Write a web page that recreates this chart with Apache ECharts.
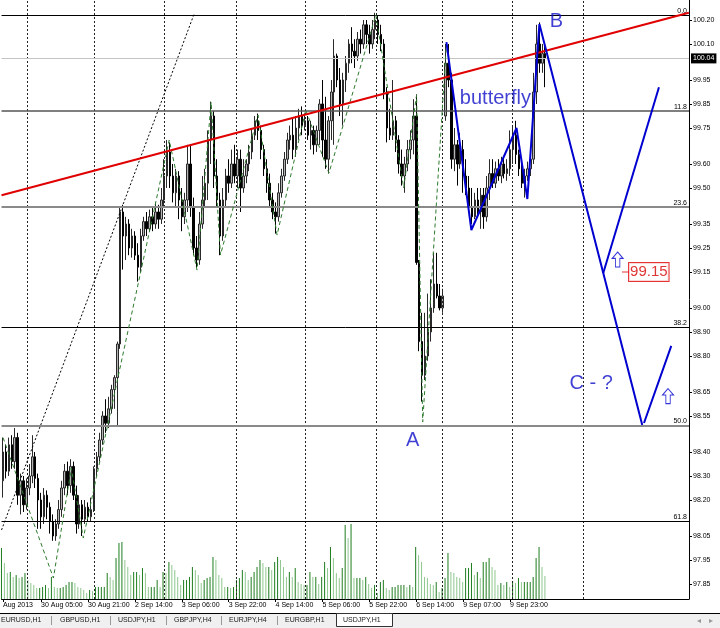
<!DOCTYPE html>
<html><head><meta charset="utf-8">
<script src="https://cdn.jsdelivr.net/npm/echarts@6/dist/echarts.min.js"></script>
<style>html,body{margin:0;padding:0;background:#fff;}#c{width:720px;height:628px;}</style>
</head><body><div id="c"></div>
<script>
// hourly bars USDJPY,H1 : [open, close, low, high]
const ohlc = [
[98.28,98.40,98.21,98.46],[98.40,98.32,98.29,98.43],[98.32,98.43,98.30,98.46],[98.43,98.36,98.33,98.47],[98.36,98.46,98.33,98.50],
[98.46,98.22,98.18,98.48],[98.22,98.28,98.14,98.31],[98.28,98.18,98.15,98.30],[98.18,98.25,98.16,98.29],[98.25,98.30,98.22,98.35],
[98.30,98.38,98.27,98.47],[98.38,98.29,98.25,98.40],[98.29,98.20,98.08,98.31],[98.20,98.13,98.08,98.23],[98.13,98.22,98.10,98.25],
[98.22,98.17,98.12,98.24],[98.17,98.11,98.06,98.19],[98.11,98.05,98.03,98.14],[98.05,98.10,98.03,98.12],[98.10,98.16,98.08,98.20],
[98.16,98.25,98.13,98.28],[98.25,98.32,98.22,98.35],[98.32,98.26,98.22,98.36],[98.26,98.34,98.23,98.37],[98.34,98.22,98.20,98.36],
[98.22,98.10,98.06,98.26],[98.10,98.18,98.08,98.22],[98.18,98.12,98.05,98.20],[98.12,98.17,98.10,98.20],[98.17,98.13,98.11,98.19],
[98.13,98.16,98.11,98.21],[98.16,98.33,98.15,98.34],[98.33,98.38,98.30,98.40],[98.38,98.45,98.36,98.48],[98.45,98.55,98.43,98.57],
[98.55,98.52,98.48,98.62],[98.52,98.58,98.50,98.63],[98.58,98.66,98.56,98.68],[98.66,98.71,98.58,98.72],[98.71,98.85,98.51,98.86],
[98.85,99.40,98.83,99.42],[99.40,99.30,99.16,99.43],[99.30,99.35,99.20,99.38],[99.35,99.25,99.22,99.37],[99.25,99.30,99.21,99.33],
[99.30,99.22,99.20,99.32],[99.22,99.17,99.11,99.27],[99.17,99.30,99.15,99.33],[99.30,99.36,99.28,99.38],[99.36,99.33,99.30,99.40],
[99.33,99.38,99.32,99.41],[99.38,99.35,99.32,99.42],[99.35,99.40,99.33,99.44],[99.40,99.37,99.33,99.43],[99.37,99.45,99.35,99.50],
[99.45,99.55,99.42,99.62],[99.55,99.65,99.50,99.70],[99.65,99.55,99.50,99.69],[99.55,99.48,99.44,99.60],[99.48,99.55,99.42,99.58],
[99.55,99.45,99.37,99.57],[99.45,99.38,99.32,99.50],[99.38,99.45,99.35,99.48],[99.45,99.60,99.40,99.68],[99.60,99.42,99.38,99.68],
[99.42,99.25,99.22,99.46],[99.25,99.20,99.17,99.30],[99.20,99.35,99.18,99.40],[99.35,99.45,99.33,99.55],[99.45,99.52,99.42,99.58],
[99.52,99.70,99.45,99.74],[99.70,99.80,99.60,99.86],[99.80,99.55,99.50,99.82],[99.55,99.45,99.42,99.62],[99.45,99.30,99.22,99.48],
[99.30,99.45,99.28,99.50],[99.45,99.55,99.42,99.58],[99.55,99.52,99.48,99.62],[99.52,99.60,99.50,99.66],[99.60,99.55,99.52,99.68],
[99.55,99.62,99.50,99.66],[99.62,99.50,99.40,99.66],[99.50,99.55,99.48,99.62],[99.55,99.60,99.52,99.62],[99.60,99.65,99.57,99.68],
[99.65,99.72,99.62,99.75],[99.72,99.78,99.70,99.80],[99.78,99.74,99.70,99.81],[99.74,99.66,99.62,99.76],[99.66,99.58,99.55,99.68],
[99.58,99.52,99.48,99.62],[99.52,99.45,99.42,99.56],[99.45,99.40,99.37,99.48],[99.40,99.38,99.31,99.44],[99.38,99.48,99.36,99.52],
[99.48,99.55,99.46,99.58],[99.55,99.62,99.53,99.65],[99.62,99.70,99.60,99.73],[99.70,99.72,99.66,99.76],[99.72,99.66,99.62,99.79],
[99.66,99.75,99.63,99.80],[99.75,99.80,99.70,99.83],[99.80,99.76,99.72,99.84],[99.76,99.78,99.74,99.81],[99.78,99.72,99.70,99.80],
[99.72,99.74,99.66,99.78],[99.74,99.68,99.64,99.76],[99.68,99.74,99.65,99.76],[99.74,99.85,99.68,99.87],[99.85,99.70,99.63,99.95],
[99.70,99.62,99.58,99.88],[99.62,99.78,99.56,99.80],[99.78,99.90,99.70,99.95],[99.90,100.05,99.68,100.12],[100.05,99.95,99.92,100.06],
[99.95,99.85,99.80,100.00],[99.85,99.95,99.76,99.98],[99.95,100.02,99.90,100.05],[100.02,100.10,99.98,100.12],[100.10,100.07,100.02,100.17],
[100.07,100.05,100.00,100.12],[100.05,100.12,100.03,100.15],[100.12,100.10,100.06,100.16],[100.10,100.18,100.08,100.20],[100.18,100.14,100.10,100.20],
[100.14,100.10,100.06,100.18],[100.10,100.16,100.08,100.20],[100.16,100.20,100.12,100.23],[100.20,100.14,100.10,100.22],[100.14,100.10,100.07,100.18],
[100.10,99.90,99.87,100.12],[99.90,99.75,99.69,99.92],[99.75,99.72,99.70,99.83],[99.72,99.78,99.70,99.95],[99.78,99.70,99.65,99.80],
[99.70,99.60,99.56,99.72],[99.60,99.55,99.51,99.66],[99.55,99.60,99.48,99.63],[99.60,99.66,99.57,99.70],[99.66,99.70,99.62,99.74],
[99.70,99.80,99.64,99.87],[99.80,99.19,99.18,99.89],[99.19,98.86,98.82,99.20],[98.86,98.72,98.61,98.98],[98.72,98.80,98.70,98.98],
[98.80,98.90,98.78,99.06],[98.90,99.00,98.86,99.12],[99.00,99.10,98.98,99.23],[99.10,99.05,99.04,99.23],[99.05,99.00,98.99,99.10],
[99.00,99.05,98.98,99.08],[99.80,100.02,99.78,100.10],[100.02,99.95,99.92,100.10],[99.95,99.62,99.58,99.98],[99.62,99.68,99.57,99.75],
[99.68,99.60,99.51,99.70],[99.60,99.66,99.58,99.73],[99.66,99.55,99.48,99.70],[99.55,99.50,99.47,99.62],[99.50,99.42,99.40,99.55],
[99.42,99.38,99.35,99.50],[99.38,99.45,99.37,99.48],[99.45,99.40,99.38,99.50],[99.40,99.47,99.33,99.50],[99.47,99.38,99.33,99.50],
[99.38,99.50,99.36,99.55],[99.50,99.56,99.45,99.62],[99.56,99.52,99.50,99.62],[99.52,99.58,99.50,99.61],[99.58,99.55,99.53,99.62],
[99.55,99.60,99.52,99.63],[99.60,99.56,99.54,99.62],[99.56,99.58,99.53,99.62],[99.58,99.66,99.55,99.74],[99.66,99.72,99.60,99.76],
[99.72,99.64,99.60,99.78],[99.64,99.58,99.55,99.66],[99.58,99.52,99.50,99.62],[99.52,99.55,99.46,99.58],[99.55,99.58,99.53,99.61],
[99.58,99.62,99.55,99.63],[99.62,99.90,99.60,99.98],[99.90,100.10,99.85,100.18],[100.10,100.02,99.98,100.19],[100.02,100.06,99.98,100.10],
[100.06,100.04,99.92,100.09]
];
// tick volumes (hundreds)
const volumes = [
51,36,26,27,22,24,21,22,26,19,16,14,11,11,12,14,11,22,12,11,11,12,14,17,17,16,12,11,9,6,9,8,12,12,12,12,26,22,19,41,
56,57,39,32,24,27,27,24,31,26,12,12,12,19,12,27,26,37,34,29,22,14,19,19,22,32,29,24,16,19,21,22,42,39,24,21,12,12,11,12,
19,21,29,27,19,22,27,32,39,36,32,32,29,37,42,39,32,22,27,22,31,17,15,14,14,27,22,22,15,22,37,31,52,41,26,21,31,74,61,75,
21,21,21,19,22,15,11,14,6,17,19,11,9,12,12,14,14,14,12,14,12,52,44,37,22,21,15,14,17,7,11,21,46,27,26,22,21,17,31,31,
36,24,27,21,37,37,41,32,29,14,16,14,17,12,18,16,21,17,17,17,17,22,41,52,32,23
];
const timeTickBars = [0,13,29,45,61,77,93,109,125,141,157,173];
const timeTickLabels = ['Aug 2013','30 Aug 05:00','30 Aug 21:00','2 Sep 14:00','3 Sep 06:00','3 Sep 22:00','4 Sep 14:00','5 Sep 06:00','5 Sep 22:00','6 Sep 14:00','9 Sep 07:00','9 Sep 23:00'];
const priceTicks = [100.20,100.10,99.95,99.85,99.75,99.60,99.50,99.35,99.25,99.15,99.00,98.90,98.80,98.65,98.55,98.40,98.30,98.20,98.05,97.95,97.85];
const gridBars = [8.3,31.2,55,79.5,103,127.2,150,173.8,198];
const fibLabels = ['0.0','11.8','23.6','38.2','50.0','61.8'];
const fibPrices = [100.225,99.821,99.419,98.917,98.510,98.108];
const bidPrice = 100.04;
const zigzag = [[0,98.46],[17.2,97.875],[23.3,98.333],[27.4,98.042],[56.7,99.70],[66.2,99.158],[71,99.858],[74.2,99.221],[87,99.804],[93.5,99.304],[103.3,99.825],[111.2,99.562],[127.2,100.221],[136.7,99.50],[141.1,99.887],[143.2,98.525],[151.3,100.104]];
const trendRed = [[-0.5,99.47],[234,100.23]];
const trendDotted = [[-0.5,98.075],[65.2,100.225]];
const butterfly = [[151.3,100.108],[159.8,99.325],[175.2,99.75],[178.9,99.454],[183,100.183],[218.1,98.512]];
const projUp1 = [[204.8,99.146],[223.8,99.92]];
const projUp2 = [[218.7,98.521],[228,98.842]];
const arrows = [[209.7,99.202],[226.9,98.633]];
const priceMark = [212.4,99.15];
const priceMarkText = '99.15';
const texts = [['butterfly',168.0,99.871],['A',139.75,98.446],['B',188.8,100.192],['C - ?',200.7,98.687]];
const tabs = ['EURUSD,H1','GBPUSD,H1','USDJPY,H1','GBPJPY,H4','EURJPY,H4','EURGBP,H1','USDJPY,H1'];

const FONT = 'Liberation Sans, Arial, sans-serif';
const BLUE = '#0000d0';
const X_MIN = -0.5, X_MAX = 234.05, Y_MIN = 97.7875, Y_MAX = 100.28333;

const fibStyles = [
  {color:'#000', width:1}, {color:'#555', width:1.5}, {color:'#8a8a8a', width:2},
  {color:'#000', width:1}, {color:'#8a8a8a', width:2}, {color:'#000', width:1}
];

const chart = echarts.init(document.getElementById('c'), null, {renderer:'canvas'});

// tab bar graphics
const tabX = [1,60,118,174,229,285,343];
const sepX = [51,110,166,221,277];
const graphics = [
  {type:'rect', shape:{x:0,y:613,width:720,height:15}, style:{fill:'#f0f0f0'}, silent:true},
  {type:'line', shape:{x1:0,y1:613.5,x2:720,y2:613.5}, style:{stroke:'#000',lineWidth:1}, silent:true},
  {type:'rect', shape:{x:336.5,y:613.5,width:56,height:13}, style:{fill:'#fff',stroke:'#333',lineWidth:1}, silent:true}
];
tabs.forEach((t,k)=>graphics.push({type:'text', x:tabX[k], y:620, style:{text:t, fill:'#222', font:'7px '+FONT, textVerticalAlign:'middle'}, silent:true}));
sepX.forEach(x=>graphics.push({type:'line', shape:{x1:x+0.5,y1:616,x2:x+0.5,y2:625}, style:{stroke:'#999',lineWidth:1}, silent:true}));
graphics.push({type:'text', x:697, y:621, style:{text:'◂', fill:'#999', font:'8px DejaVu Sans', textVerticalAlign:'middle'}, silent:true});
graphics.push({type:'text', x:709, y:621, style:{text:'▸', fill:'#999', font:'8px DejaVu Sans', textVerticalAlign:'middle'}, silent:true});

const option = {
  animation:false,
  backgroundColor:'#fff',
  grid:[
    {left:0, right:31, top:0, bottom:29},
    {left:0, right:31, top:0, bottom:29}
  ],
  xAxis:[
    {type:'value', gridIndex:0, min:X_MIN, max:X_MAX, splitLine:{show:false},
     axisLine:{show:true, onZero:false, lineStyle:{color:'#000',width:1}},
     axisTick:{show:true, customValues:timeTickBars, length:3, lineStyle:{color:'#000'}},
     axisLabel:{show:true, customValues:timeTickBars, align:'left', margin:3, fontSize:7, fontFamily:FONT, color:'#000',
       formatter:v=>{const k=timeTickBars.indexOf(Math.round(v)); return k>=0?timeTickLabels[k]:'';}}},
    {type:'value', gridIndex:1, min:X_MIN, max:X_MAX, show:false}
  ],
  yAxis:[
    {type:'value', gridIndex:0, position:'right', min:Y_MIN, max:Y_MAX, scale:true, splitLine:{show:false},
     axisLine:{show:true, onZero:false, lineStyle:{color:'#000',width:1}},
     axisTick:{show:true, customValues:priceTicks, length:3, lineStyle:{color:'#000'}},
     axisLabel:{show:true, customValues:priceTicks, margin:4, fontSize:7, fontFamily:FONT, color:'#000',
       formatter:v=>v.toFixed(2)}},
    {type:'value', gridIndex:1, min:0, max:599, show:false}
  ],
  graphic:graphics,
  series:[
    { // vertical grid + fib levels + bid line
      type:'line', xAxisIndex:0, yAxisIndex:0, data:[], z:1, silent:true,
      markLine:{symbol:'none', silent:true, animation:false,
        data:[
          ...gridBars.map(b=>({xAxis:b, lineStyle:{color:'#222', width:1, type:[2,2]}, label:{show:false}})),
          ...fibPrices.map((p,k)=>({yAxis:p, lineStyle:{color:fibStyles[k].color, width:fibStyles[k].width, type:'solid'},
              label:{show:true, position:'insideEndTop', formatter:fibLabels[k], fontSize:7, fontFamily:FONT, color:'#000', distance:[2,1]}})),
          {yAxis:bidPrice, lineStyle:{color:'#c4c4c4', width:1, type:'solid'},
           label:{show:true, position:'end', distance:2, formatter:bidPrice.toFixed(2), fontSize:7, fontFamily:FONT,
                  color:'#fff', backgroundColor:'#000', padding:[2,2,1,2]}}
        ]}
    },
    {
      type:'bar', xAxisIndex:1, yAxisIndex:1, barWidth:1, z:2, silent:true,
      data:volumes.map((v,i)=>[i,v]),
      itemStyle:{color:p=>{const i=p.dataIndex; return (i===0||volumes[i]>=volumes[i-1])?'#1e7d1e':'#8fc78f';}}
    },
    {
      type:'candlestick', xAxisIndex:0, yAxisIndex:0, z:3, barWidth:2,
      data:ohlc.map((r,i)=>[i,r[0],r[1],r[2],r[3]]),
      encode:{x:0, y:[1,2,3,4]},
      itemStyle:{color:'#b4b4b4', color0:'#000', borderColor:'#2a2a2a', borderColor0:'#000', borderWidth:1}
    },
    {type:'line', data:trendDotted, symbol:'none', z:4, silent:true, lineStyle:{color:'#000', width:1, type:[2,2]}},
    {type:'line', data:zigzag, symbol:'none', z:5, silent:true, lineStyle:{color:'#2d7a2d', width:1, type:[4,3]}},
    {type:'line', data:trendRed, symbol:'none', z:6, silent:true, lineStyle:{color:'#e00000', width:2}},
    {type:'line', data:butterfly, symbol:'none', z:7, silent:true, lineStyle:{color:BLUE, width:2}},
    {type:'line', data:projUp1, symbol:'none', z:7, silent:true, lineStyle:{color:BLUE, width:2}},
    {type:'line', data:projUp2, symbol:'none', z:7, silent:true, lineStyle:{color:BLUE, width:2}},
    {type:'scatter', data:arrows, z:8, silent:true,
     symbol:'path://M5,0 L10,6 L7,6 L7,14 L3,14 L3,6 L0,6 Z', symbolSize:[11,15],
     itemStyle:{color:'#fff', borderColor:BLUE, borderWidth:1}},
    {type:'scatter', data:[priceMark], z:8, silent:true, symbol:'rect', symbolSize:[7,1],
     itemStyle:{color:'#e00000'},
     label:{show:true, position:'right', distance:0, formatter:priceMarkText, fontSize:15, fontFamily:FONT,
       color:'#d80000', backgroundColor:'#fff', borderColor:'#e00000', borderWidth:1, padding:[2,1,1,1]}},
    {type:'scatter', z:9, silent:true, symbol:'circle', symbolSize:1, itemStyle:{color:'rgba(255,255,255,0)'},
     data:texts.map(t=>({name:t[0], value:[t[1],t[2]]})),
     label:{show:true, position:'inside', formatter:p=>p.name, color:'#1010c8', fontSize:20, fontFamily:FONT}}
  ]
};
chart.setOption(option);
</script></body></html>
